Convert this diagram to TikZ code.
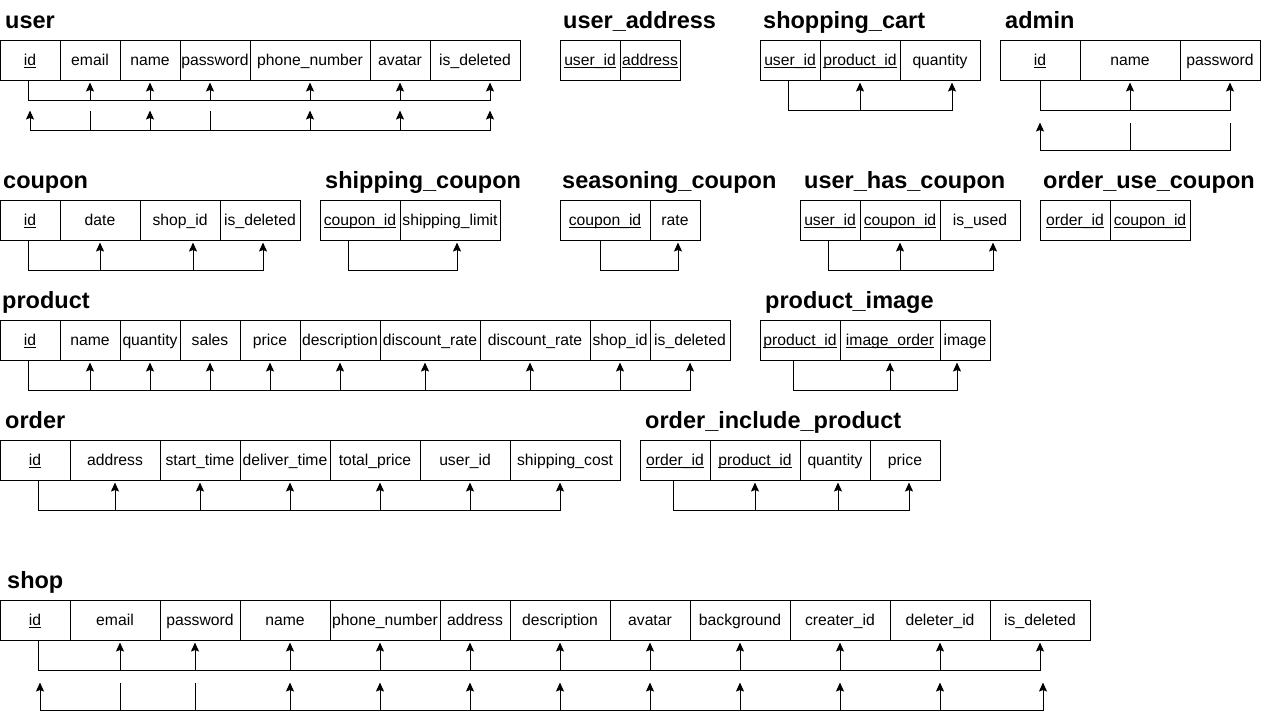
\documentclass[tikz,border=0pt]{standalone}
\usepackage{fontspec}
\setmainfont{Liberation Sans}
\usetikzlibrary{arrows.meta}
\newcommand\ul[1]{\vtop{\hbox{\smash{#1}}\kern1.5pt\hrule height0.9pt}}
\newcommand\cellfont{\fontsize{15.7}{18}\selectfont}
\newcommand\titlefont{\fontsize{23.5}{28}\selectfont\bfseries}
\tikzset{
  cell/.style={draw, line width=1pt, minimum height=40pt, inner sep=0pt,
    text height=12.5pt, text depth=2.5pt, font=\cellfont},
  ttl/.style={anchor=base west, inner sep=0pt, font=\titlefont},
  ln/.style={line width=1pt},
  ar/.style={line width=1pt, -{Stealth[length=9pt,width=8pt,inset=1.5pt]}},
}
% table row: prefix, centre y, list x0/x1/text
\newcommand\tbl[3]{\foreach \xa/\xb/\txt [count=\i] in {#3}{%
  \node[cell, minimum width={(\xb-\xa)*1pt}] (#1\i) at ({(\xa+\xb)/2},#2) {\txt};}}
% attached bus: src, src dx, drop, end, end dx, arrow list node/dx
\newcommand\bus[6]{%
  \draw[ln] ([xshift=#2pt]#1.south) |- ([xshift=#5pt,yshift=-#3pt]#4.south);
  \foreach \nd/\dd in {#6}{%
    \draw[ar] ([xshift=\dd pt,yshift=-#3pt]\nd.south) -- ([xshift=\dd pt,yshift=-2pt]\nd.south);}}
% floating bus: src, src dx, drop, tip, end, end dx, arrow list, plain list
\newcommand\fbus[8]{%
  \draw[ln] ([xshift=#2pt,yshift=-#3pt]#1.south) -- ([xshift=#6pt,yshift=-#3pt]#5.south);
  \foreach \nd/\dd in {#7}{%
    \draw[ar] ([xshift=\dd pt,yshift=-#3pt]\nd.south) -- ([xshift=\dd pt,yshift=-#4pt]\nd.south);}
  \foreach \nd/\dd in {#8}{%
    \draw[ln] ([xshift=\dd pt,yshift=-#3pt]\nd.south) -- ([xshift=\dd pt,yshift=-#4pt]\nd.south);}}
\begin{document}
\begin{tikzpicture}[x=1pt,y=-1pt]
\useasboundingbox (0,0) rectangle (1261,721);

% ---------- titles ----------
\node[ttl] (t-user) at (5,28) {user};
\node[ttl] (t-ua) at (563,28) {user\_address};
\node[ttl] (t-sc) at (763,28) {shopping\_cart};
\node[ttl] (t-ad) at (1005,28) {admin};
\node[ttl] (t-cp) at (3,188) {coupon};
\node[ttl] (t-sh) at (325,188) {shipping\_coupon};
\node[ttl] (t-se) at (562,188) {seasoning\_coupon};
\node[ttl] (t-uh) at (804,188) {user\_has\_coupon};
\node[ttl] (t-oc) at (1043,188) {order\_use\_coupon};
\node[ttl] (t-pr) at (2,308) {product};
\node[ttl] (t-pi) at (765,308) {product\_image};
\node[ttl] (t-or) at (5,428) {order};
\node[ttl] (t-oi) at (645,428) {order\_include\_product};
\node[ttl] (t-sp) at (7,588) {shop};

% ---------- tables ----------
\tbl{u}{60}{0/60/\ul{id}, 60/120/email, 120/180/name, 180/250/password,
  250/370/phone\_number, 370/430/avatar, 430/520/is\_deleted}
\tbl{ua}{60}{560/620/\ul{user\_id}, 620/680/\ul{address}}
\tbl{sc}{60}{760/820/\ul{user\_id}, 820/900/\ul{product\_id}, 900/980/quantity}
\tbl{ad}{60}{1000/1080/\ul{id}, 1080/1180/name, 1180/1260/password}

\tbl{cp}{220}{0/60/\ul{id}, 60/140/date, 140/220/shop\_id, 220/300/is\_deleted}
\tbl{sh}{220}{320/400/\ul{coupon\_id}, 400/500/shipping\_limit}
\tbl{se}{220}{560/650/\ul{coupon\_id}, 650/700/rate}
\tbl{uh}{220}{800/860/\ul{user\_id}, 860/940/\ul{coupon\_id}, 940/1020/is\_used}
\tbl{oc}{220}{1040/1110/\ul{order\_id}, 1110/1190/\ul{coupon\_id}}

\tbl{pr}{340}{0/60/\ul{id}, 60/120/name, 120/180/quantity, 180/240/sales,
  240/300/price, 300/380/description, 380/480/discount\_rate,
  480/590/discount\_rate, 590/650/shop\_id, 650/730/is\_deleted}
\tbl{pi}{340}{760/840/\ul{product\_id}, 840/940/\ul{image\_order}, 940/990/image}

\tbl{or}{460}{0/70/\ul{id}, 70/160/address, 160/240/start\_time,
  240/330/deliver\_time, 330/420/total\_price, 420/510/user\_id,
  510/620/shipping\_cost}
\tbl{oi}{460}{640/710/\ul{order\_id}, 710/800/\ul{product\_id},
  800/870/quantity, 870/940/price}

\tbl{sp}{620}{0/70/\ul{id}, 70/160/email, 160/240/password, 240/330/name,
  330/440/phone\_number, 440/510/address, 510/610/description,
  610/690/avatar, 690/790/background, 790/890/creater\_id,
  890/990/deleter\_id, 990/1090/is\_deleted}

% ---------- connectors ----------
\bus{u1}{-2}{20}{u7}{15}{u2/0, u3/0, u4/-5, u5/0, u6/0, u7/15}
\fbus{u1}{0}{50}{30}{u7}{15}{u1/0, u3/0, u5/0, u6/0, u7/15}{u2/0, u4/-5}

\bus{sc1}{-2}{30}{sc3}{12}{sc2/0, sc3/12}
\bus{ad1}{0}{30}{ad3}{10}{ad2/0, ad3/10}
\fbus{ad1}{0}{70}{42}{ad3}{10}{ad1/0}{ad2/0, ad3/10}

\bus{cp1}{-2}{30}{cp4}{3}{cp2/0, cp3/13, cp4/3}
\bus{sh1}{-12}{30}{sh2}{7}{sh2/7}
\bus{se1}{-5}{30}{se2}{3}{se2/3}
\bus{uh1}{-2}{30}{uh3}{13}{uh2/0, uh3/13}

\bus{pr1}{-2}{30}{pr10}{0}{pr2/0, pr3/0, pr4/0, pr5/0, pr6/0, pr7/-5,
  pr8/-5, pr9/0, pr10/0}
\bus{pi1}{-7}{30}{pi3}{-8}{pi2/0, pi3/-8}

\bus{or1}{3}{30}{or7}{-5}{or2/0, or3/0, or4/5, or5/5, or6/5, or7/-5}
\bus{oi1}{-2}{30}{oi4}{4}{oi2/0, oi3/3, oi4/4}

\bus{sp1}{3}{30}{sp12}{0}{sp2/5, sp3/-5, sp4/5, sp5/-5, sp6/-5, sp7/0,
  sp8/0, sp9/0, sp10/0, sp11/0, sp12/0}
\fbus{sp1}{5}{70}{42}{sp12}{3}{sp1/5, sp4/5, sp5/-5, sp6/-5, sp7/0, sp8/0,
  sp9/0, sp10/0, sp11/0, sp12/3}{sp2/5, sp3/-5}
\end{tikzpicture}
\end{document}
